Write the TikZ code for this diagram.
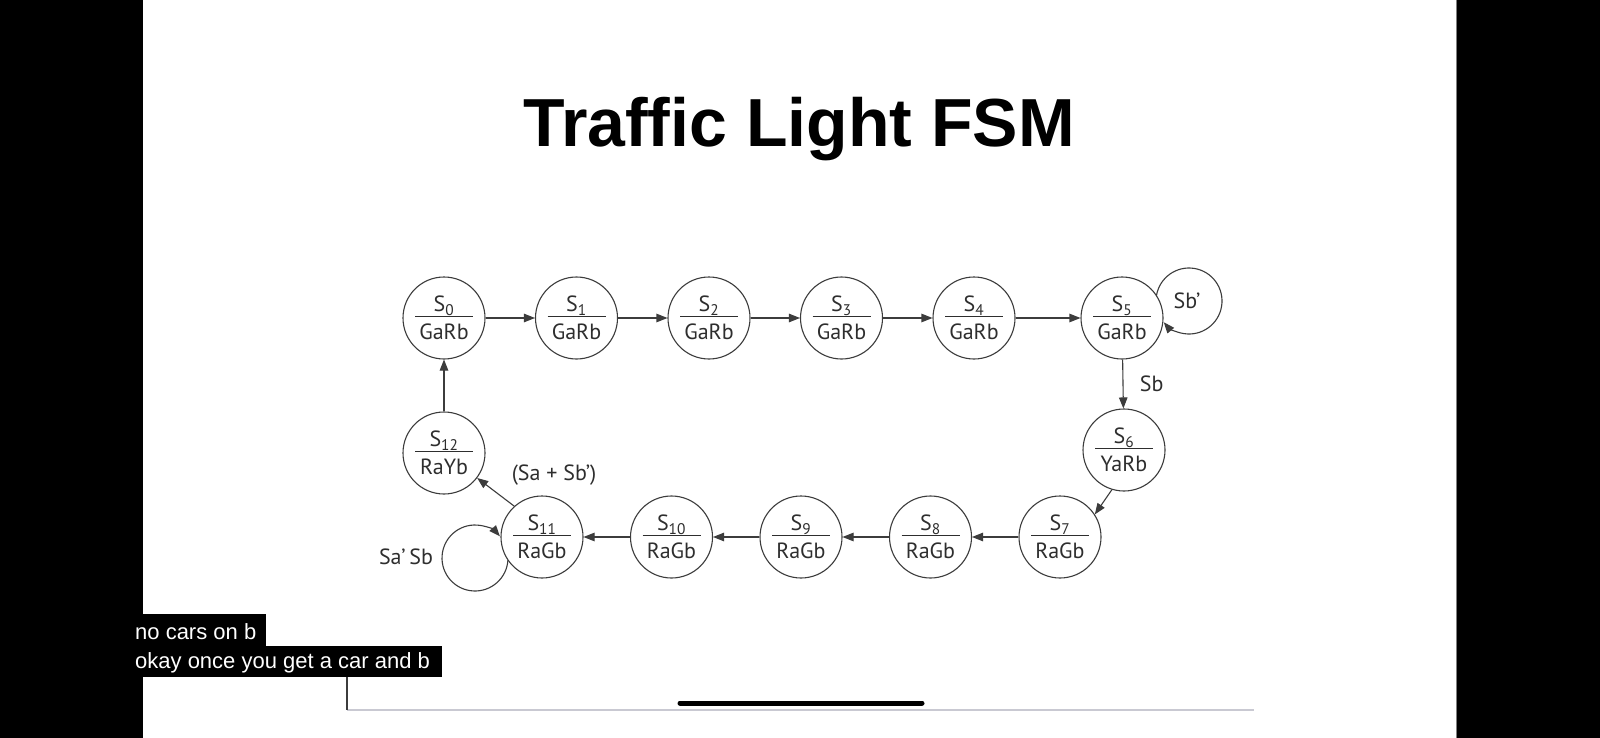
\documentclass[tikz,border=0pt]{standalone}
\usepackage{fontspec}
\setmainfont{PT Sans}
\newfontfamily\headfont{Liberation Sans}
\usetikzlibrary{arrows.meta,positioning}

\definecolor{wire}{HTML}{3C3C3C}
\definecolor{ink}{HTML}{2E2E2E}
\definecolor{rulegray}{HTML}{C9C9D2}

\newcommand{\st}[2]{S\textsubscript{#1}\\#2}

\begin{document}
\begin{tikzpicture}[x=1pt,y=-1pt,>={Triangle[length=11pt,width=8.5pt]},node distance=132.5pt,
  every edge/.style={draw=wire,line width=1.1pt},
  state/.style={circle,draw=wire,line width=1.1pt,fill=white,minimum size=82pt,inner sep=0pt,
    align=center,text=ink,font=\fontsize{22}{28}\selectfont,
    path picture={\draw[line width=1.2pt,ink] ([shift={(-29pt,1.5pt)}]path picture bounding box.center) -- ++(58pt,0pt);}},
  lbl/.style={text=ink,font=\fontsize{22}{26}\selectfont},
  capt/.style={text=white,inner sep=0pt,anchor=base west,font=\headfont\fontsize{22}{26}\selectfont}]

  \fill[white] (0,0) rectangle (1600,738);
  \useasboundingbox (0,0) rectangle (1600,738);
  \fill[black] (0,0) rectangle (143,738);
  \fill[black] (1457,0) rectangle (1600,738);
  \draw[gray,line width=1pt] (1456.5,0) -- (1456.5,738);

  \node[anchor=base,font=\headfont\bfseries\fontsize{68}{80}\selectfont] (title) at (799,147) {Traffic Light FSM};

  \node[state] (s0) at (444,318) {\st{0}{GaRb}};
  \node[state] (s1) [right of=s0] {\st{1}{GaRb}};
  \node[state] (s2) [right of=s1] {\st{2}{GaRb}};
  \node[state] (s3) [right of=s2] {\st{3}{GaRb}};
  \node[state] (s4) [right of=s3] {\st{4}{GaRb}};
  \node[state] (s5) [right of=s4,node distance=148pt] {\st{5}{GaRb}};
  \node[state] (s6) [below of=s5,node distance=132pt,xshift=2pt] {\st{6}{YaRb}};
  \node[state] (s7) at (1060,537) {\st{7}{RaGb}};
  \node[state] (s8) [left of=s7,node distance=129.5pt] {\st{8}{RaGb}};
  \node[state] (s9) [left of=s8,node distance=129.5pt] {\st{9}{RaGb}};
  \node[state] (s10) [left of=s9,node distance=129.5pt] {\st{10}{RaGb}};
  \node[state] (s11) [left of=s10,node distance=129.5pt] {\st{11}{RaGb}};
  \node[state] (s12) [below of=s0,node distance=135pt] {\st{12}{RaYb}};

  \path[->]
    (s0) edge (s1)
    (s1) edge (s2)
    (s2) edge (s3)
    (s3) edge (s4)
    (s4) edge (s5)
    (s5) edge node[lbl,right=13pt] {Sb} (s6)
    (s6.-107) edge (s7.33)
    (s7) edge (s8)
    (s8) edge (s9)
    (s9) edge (s10)
    (s10) edge (s11)
    (s11.132) edge (s12.-37)
    (s12) edge (s0);

  \coordinate (loop5) at (1189,301);
  \coordinate (loop11) at (475,558);
  \draw[->,wire,line width=1.1pt] (loop5) ++(170.8:33pt) arc[start angle=170.8,end angle=-140,radius=33pt];
  \draw[->,wire,line width=1.1pt] (loop11) ++(-3.5:33pt) arc[start angle=-3.5,end angle=-319,radius=33pt];

  \node[lbl] (sbn) at (1187,301) {Sb’};
  \node[lbl] (sasb) at (406,557) {Sa’\,Sb};
  \node[lbl] (sapb) at (554,475) {(Sa + Sb’)};

  \fill[black] (120,614) rectangle (266,646);
  \fill[black] (120,646) rectangle (442,677);
  \node[capt] (cap1) at (135,639) {no cars on b};
  \node[capt] (cap2) at (135,668) {okay once you get a car and b};

  \draw[rulegray,line width=2pt] (347,710) -- (1254,710);
  \draw[wire,line width=1.5pt] (347,677) -- (347,710);
  \draw[black,line width=5pt,line cap=round] (680,703) -- (922,703);

\end{tikzpicture}
\end{document}
